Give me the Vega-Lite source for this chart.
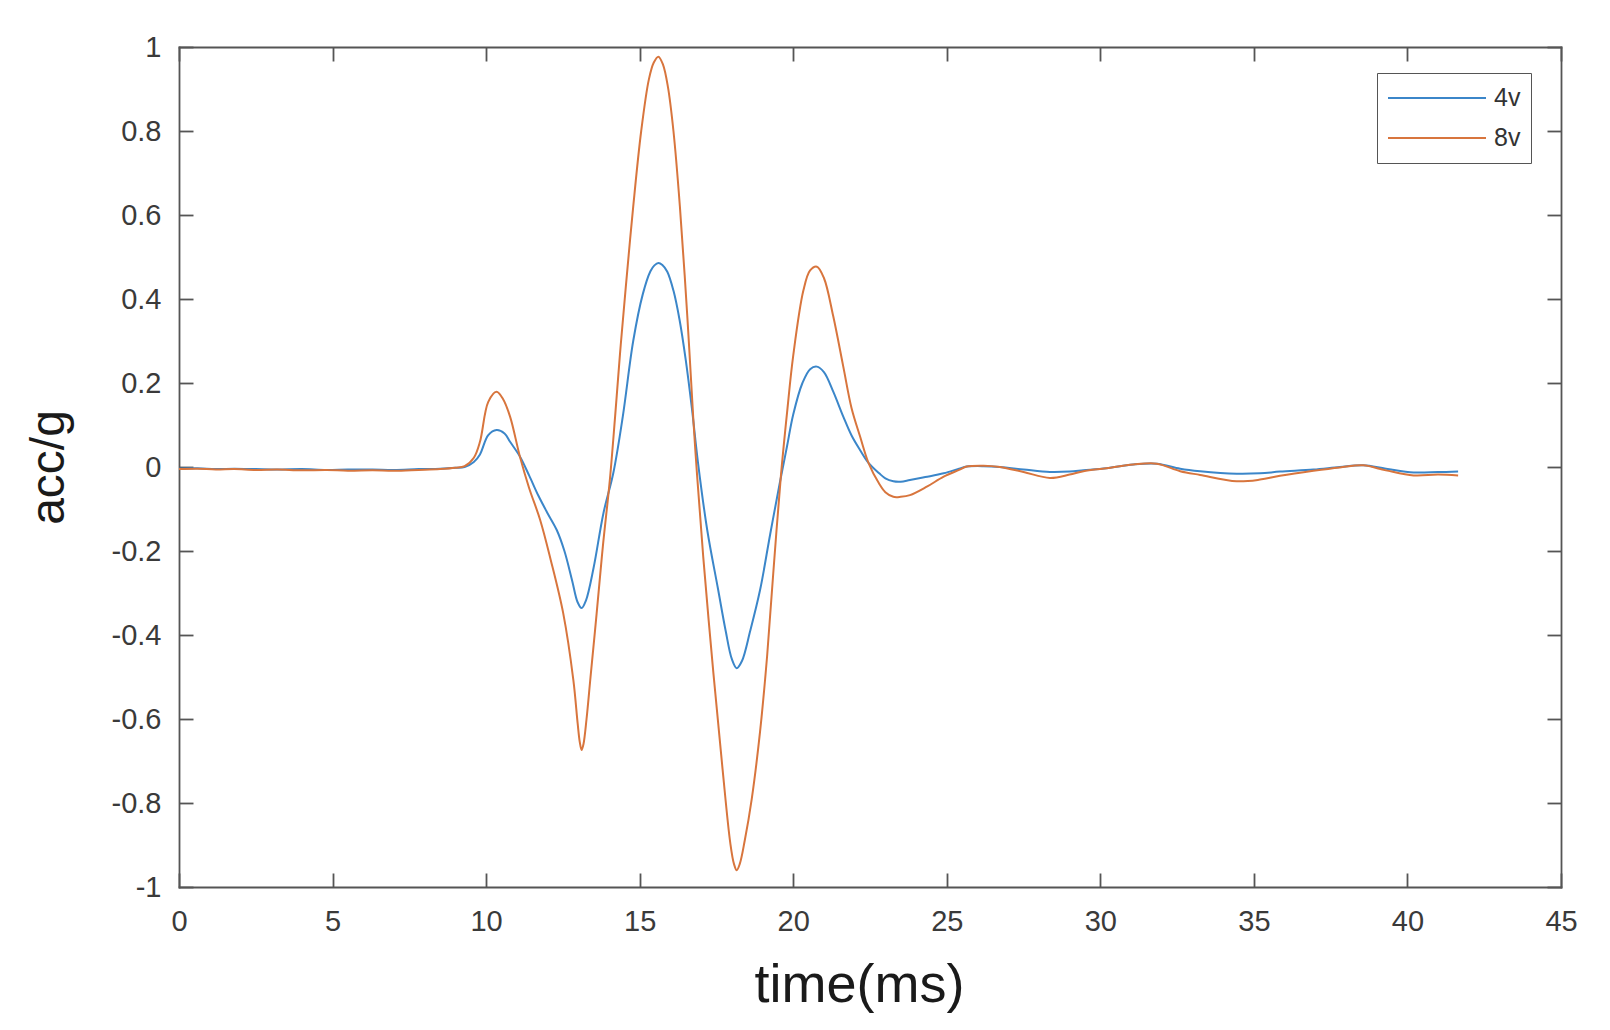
{
  "$schema": "https://vega.github.io/schema/vega-lite/v6.json",
  "width": 1382,
  "height": 840,
  "autosize": {"type": "none"},
  "padding": {"left": 179, "top": 47, "right": 49, "bottom": 143},
  "background": "white",
  "config": {
    "view": {"stroke": null},
    "font": "Liberation Sans",
    "axis": {
      "grid": false,
      "labelFont": "Liberation Sans",
      "labelFontSize": 29,
      "labelColor": "#3a3a3a",
      "domainColor": "#555555",
      "domainWidth": 1.8,
      "domainCap": "square",
      "tickColor": "#555555",
      "tickWidth": 1.8,
      "tickSize": -14,
      "labelFlush": false,
      "labelOverlap": false,
      "labelBound": false,
      "titleFont": "Liberation Sans",
      "titleFontWeight": "normal",
      "titleColor": "#1a1a1a"
    }
  },
  "datasets": {
    "acc": [
      {"t": 0, "v": -0.004, "s": "4v"}, {"t": 0.6, "v": -0.003, "s": "4v"}, {"t": 1.2, "v": -0.005, "s": "4v"}, {"t": 1.8, "v": -0.004, "s": "4v"}, {"t": 2.5, "v": -0.005, "s": "4v"}, {"t": 3.2, "v": -0.006, "s": "4v"}, {"t": 4, "v": -0.005, "s": "4v"}, {"t": 4.8, "v": -0.007, "s": "4v"}, {"t": 5.5, "v": -0.006, "s": "4v"}, {"t": 6.3, "v": -0.006, "s": "4v"}, {"t": 7, "v": -0.007, "s": "4v"}, {"t": 7.8, "v": -0.005, "s": "4v"}, {"t": 8.5, "v": -0.004, "s": "4v"}, {"t": 9.0, "v": -0.002, "s": "4v"}, {"t": 9.3, "v": 0.0, "s": "4v"}, {"t": 9.6, "v": 0.012, "s": "4v"}, {"t": 9.8, "v": 0.03, "s": "4v"}, {"t": 10.07, "v": 0.076, "s": "4v"}, {"t": 10.34, "v": 0.088, "s": "4v"}, {"t": 10.6, "v": 0.08, "s": "4v"}, {"t": 10.78, "v": 0.06, "s": "4v"}, {"t": 11.1, "v": 0.025, "s": "4v"}, {"t": 11.4, "v": -0.02, "s": "4v"}, {"t": 11.7, "v": -0.068, "s": "4v"}, {"t": 12.0, "v": -0.11, "s": "4v"}, {"t": 12.3, "v": -0.15, "s": "4v"}, {"t": 12.55, "v": -0.2, "s": "4v"}, {"t": 12.8, "v": -0.27, "s": "4v"}, {"t": 12.98, "v": -0.322, "s": "4v"}, {"t": 13.11, "v": -0.336, "s": "4v"}, {"t": 13.25, "v": -0.318, "s": "4v"}, {"t": 13.5, "v": -0.24, "s": "4v"}, {"t": 13.82, "v": -0.11, "s": "4v"}, {"t": 14.14, "v": -0.015, "s": "4v"}, {"t": 14.45, "v": 0.12, "s": "4v"}, {"t": 14.79, "v": 0.3, "s": "4v"}, {"t": 15.1, "v": 0.411, "s": "4v"}, {"t": 15.35, "v": 0.466, "s": "4v"}, {"t": 15.48, "v": 0.48, "s": "4v"}, {"t": 15.61, "v": 0.486, "s": "4v"}, {"t": 15.74, "v": 0.481, "s": "4v"}, {"t": 15.9, "v": 0.465, "s": "4v"}, {"t": 16.1, "v": 0.42, "s": "4v"}, {"t": 16.3, "v": 0.35, "s": "4v"}, {"t": 16.5, "v": 0.255, "s": "4v"}, {"t": 16.7, "v": 0.14, "s": "4v"}, {"t": 16.9, "v": 0.01, "s": "4v"}, {"t": 17.2, "v": -0.15, "s": "4v"}, {"t": 17.55, "v": -0.29, "s": "4v"}, {"t": 17.8, "v": -0.39, "s": "4v"}, {"t": 18.0, "v": -0.457, "s": "4v"}, {"t": 18.16, "v": -0.479, "s": "4v"}, {"t": 18.33, "v": -0.462, "s": "4v"}, {"t": 18.6, "v": -0.39, "s": "4v"}, {"t": 18.92, "v": -0.293, "s": "4v"}, {"t": 19.25, "v": -0.16, "s": "4v"}, {"t": 19.57, "v": -0.035, "s": "4v"}, {"t": 19.8, "v": 0.05, "s": "4v"}, {"t": 20.0, "v": 0.125, "s": "4v"}, {"t": 20.3, "v": 0.2, "s": "4v"}, {"t": 20.55, "v": 0.233, "s": "4v"}, {"t": 20.77, "v": 0.239, "s": "4v"}, {"t": 21.0, "v": 0.226, "s": "4v"}, {"t": 21.3, "v": 0.18, "s": "4v"}, {"t": 21.63, "v": 0.12, "s": "4v"}, {"t": 21.9, "v": 0.075, "s": "4v"}, {"t": 22.18, "v": 0.04, "s": "4v"}, {"t": 22.45, "v": 0.01, "s": "4v"}, {"t": 22.8, "v": -0.015, "s": "4v"}, {"t": 23.0, "v": -0.027, "s": "4v"}, {"t": 23.26, "v": -0.034, "s": "4v"}, {"t": 23.5, "v": -0.035, "s": "4v"}, {"t": 23.8, "v": -0.031, "s": "4v"}, {"t": 24.3, "v": -0.024, "s": "4v"}, {"t": 24.9, "v": -0.015, "s": "4v"}, {"t": 25.4, "v": -0.004, "s": "4v"}, {"t": 25.65, "v": 0.001, "s": "4v"}, {"t": 26.2, "v": 0.002, "s": "4v"}, {"t": 26.73, "v": 0.0, "s": "4v"}, {"t": 27.5, "v": -0.006, "s": "4v"}, {"t": 28.36, "v": -0.012, "s": "4v"}, {"t": 29.0, "v": -0.011, "s": "4v"}, {"t": 29.45, "v": -0.008, "s": "4v"}, {"t": 30.2, "v": -0.003, "s": "4v"}, {"t": 31.07, "v": 0.006, "s": "4v"}, {"t": 31.84, "v": 0.008, "s": "4v"}, {"t": 32.6, "v": -0.004, "s": "4v"}, {"t": 33.25, "v": -0.01, "s": "4v"}, {"t": 34.44, "v": -0.016, "s": "4v"}, {"t": 35.2, "v": -0.015, "s": "4v"}, {"t": 35.85, "v": -0.011, "s": "4v"}, {"t": 36.94, "v": -0.006, "s": "4v"}, {"t": 37.8, "v": 0.0, "s": "4v"}, {"t": 38.56, "v": 0.004, "s": "4v"}, {"t": 39.3, "v": -0.004, "s": "4v"}, {"t": 40.2, "v": -0.013, "s": "4v"}, {"t": 41.0, "v": -0.012, "s": "4v"}, {"t": 41.65, "v": -0.011, "s": "4v"},
      {"t": 0, "v": -0.005, "s": "8v"}, {"t": 0.6, "v": -0.004, "s": "8v"}, {"t": 1.2, "v": -0.006, "s": "8v"}, {"t": 1.8, "v": -0.005, "s": "8v"}, {"t": 2.5, "v": -0.007, "s": "8v"}, {"t": 3.2, "v": -0.006, "s": "8v"}, {"t": 4, "v": -0.008, "s": "8v"}, {"t": 4.8, "v": -0.007, "s": "8v"}, {"t": 5.5, "v": -0.009, "s": "8v"}, {"t": 6.3, "v": -0.008, "s": "8v"}, {"t": 7, "v": -0.009, "s": "8v"}, {"t": 7.8, "v": -0.007, "s": "8v"}, {"t": 8.5, "v": -0.005, "s": "8v"}, {"t": 9.0, "v": -0.002, "s": "8v"}, {"t": 9.3, "v": 0.002, "s": "8v"}, {"t": 9.6, "v": 0.022, "s": "8v"}, {"t": 9.8, "v": 0.06, "s": "8v"}, {"t": 10.07, "v": 0.155, "s": "8v"}, {"t": 10.34, "v": 0.179, "s": "8v"}, {"t": 10.55, "v": 0.162, "s": "8v"}, {"t": 10.78, "v": 0.12, "s": "8v"}, {"t": 11.1, "v": 0.025, "s": "8v"}, {"t": 11.4, "v": -0.05, "s": "8v"}, {"t": 11.76, "v": -0.126, "s": "8v"}, {"t": 12.1, "v": -0.22, "s": "8v"}, {"t": 12.51, "v": -0.348, "s": "8v"}, {"t": 12.84, "v": -0.507, "s": "8v"}, {"t": 12.98, "v": -0.61, "s": "8v"}, {"t": 13.05, "v": -0.655, "s": "8v"}, {"t": 13.11, "v": -0.674, "s": "8v"}, {"t": 13.17, "v": -0.66, "s": "8v"}, {"t": 13.27, "v": -0.6, "s": "8v"}, {"t": 13.4, "v": -0.5, "s": "8v"}, {"t": 13.6, "v": -0.348, "s": "8v"}, {"t": 13.8, "v": -0.19, "s": "8v"}, {"t": 14.03, "v": -0.03, "s": "8v"}, {"t": 14.2, "v": 0.12, "s": "8v"}, {"t": 14.36, "v": 0.27, "s": "8v"}, {"t": 14.55, "v": 0.43, "s": "8v"}, {"t": 14.79, "v": 0.62, "s": "8v"}, {"t": 15.05, "v": 0.8, "s": "8v"}, {"t": 15.3, "v": 0.923, "s": "8v"}, {"t": 15.46, "v": 0.963, "s": "8v"}, {"t": 15.61, "v": 0.977, "s": "8v"}, {"t": 15.76, "v": 0.958, "s": "8v"}, {"t": 15.92, "v": 0.905, "s": "8v"}, {"t": 16.1, "v": 0.8, "s": "8v"}, {"t": 16.31, "v": 0.62, "s": "8v"}, {"t": 16.55, "v": 0.36, "s": "8v"}, {"t": 16.75, "v": 0.11, "s": "8v"}, {"t": 16.87, "v": -0.02, "s": "8v"}, {"t": 17.07, "v": -0.214, "s": "8v"}, {"t": 17.4, "v": -0.49, "s": "8v"}, {"t": 17.7, "v": -0.72, "s": "8v"}, {"t": 17.95, "v": -0.895, "s": "8v"}, {"t": 18.07, "v": -0.945, "s": "8v"}, {"t": 18.16, "v": -0.96, "s": "8v"}, {"t": 18.26, "v": -0.945, "s": "8v"}, {"t": 18.42, "v": -0.89, "s": "8v"}, {"t": 18.65, "v": -0.79, "s": "8v"}, {"t": 18.92, "v": -0.63, "s": "8v"}, {"t": 19.15, "v": -0.45, "s": "8v"}, {"t": 19.35, "v": -0.253, "s": "8v"}, {"t": 19.6, "v": -0.02, "s": "8v"}, {"t": 19.8, "v": 0.13, "s": "8v"}, {"t": 20.0, "v": 0.265, "s": "8v"}, {"t": 20.33, "v": 0.42, "s": "8v"}, {"t": 20.55, "v": 0.468, "s": "8v"}, {"t": 20.77, "v": 0.477, "s": "8v"}, {"t": 21.0, "v": 0.45, "s": "8v"}, {"t": 21.3, "v": 0.36, "s": "8v"}, {"t": 21.63, "v": 0.239, "s": "8v"}, {"t": 21.9, "v": 0.14, "s": "8v"}, {"t": 22.18, "v": 0.072, "s": "8v"}, {"t": 22.45, "v": 0.01, "s": "8v"}, {"t": 22.8, "v": -0.04, "s": "8v"}, {"t": 23.0, "v": -0.06, "s": "8v"}, {"t": 23.26, "v": -0.071, "s": "8v"}, {"t": 23.5, "v": -0.071, "s": "8v"}, {"t": 23.8, "v": -0.067, "s": "8v"}, {"t": 24.35, "v": -0.047, "s": "8v"}, {"t": 24.9, "v": -0.023, "s": "8v"}, {"t": 25.4, "v": -0.007, "s": "8v"}, {"t": 25.65, "v": 0.001, "s": "8v"}, {"t": 26.2, "v": 0.003, "s": "8v"}, {"t": 26.73, "v": 0.0, "s": "8v"}, {"t": 27.5, "v": -0.012, "s": "8v"}, {"t": 28.36, "v": -0.026, "s": "8v"}, {"t": 29.0, "v": -0.018, "s": "8v"}, {"t": 29.45, "v": -0.01, "s": "8v"}, {"t": 30.2, "v": -0.003, "s": "8v"}, {"t": 31.07, "v": 0.006, "s": "8v"}, {"t": 31.84, "v": 0.008, "s": "8v"}, {"t": 32.6, "v": -0.01, "s": "8v"}, {"t": 33.25, "v": -0.019, "s": "8v"}, {"t": 34.44, "v": -0.034, "s": "8v"}, {"t": 35.2, "v": -0.03, "s": "8v"}, {"t": 35.85, "v": -0.021, "s": "8v"}, {"t": 36.94, "v": -0.009, "s": "8v"}, {"t": 37.8, "v": -0.001, "s": "8v"}, {"t": 38.56, "v": 0.004, "s": "8v"}, {"t": 39.3, "v": -0.008, "s": "8v"}, {"t": 40.2, "v": -0.02, "s": "8v"}, {"t": 41.0, "v": -0.018, "s": "8v"}, {"t": 41.65, "v": -0.02, "s": "8v"}
    ]
  },
  "data": {"name": "acc"},
  "layer": [
    {
      "mark": {"type": "line", "interpolate": "catmull-rom", "strokeWidth": 2, "clip": true},
      "encoding": {
        "x": {
          "field": "t", "type": "quantitative",
          "scale": {"domain": [0, 45], "nice": false, "zero": false},
          "axis": {
            "orient": "bottom",
            "values": [0, 5, 10, 15, 20, 25, 30, 35, 40, 45],
            "format": "d",
            "labelPadding": 34,
            "title": "time(ms)",
            "titleFontSize": 54,
            "titleX": 680,
            "titleY": 114,
            "titleBaseline": "alphabetic",
            "titleAlign": "center"
          }
        },
        "y": {
          "field": "v", "type": "quantitative",
          "scale": {"domain": [-1, 1], "nice": false, "zero": false},
          "axis": {
            "orient": "left",
            "values": [-1, -0.8, -0.6, -0.4, -0.2, 0, 0.2, 0.4, 0.6, 0.8, 1],
            "labelExpr": "datum.value + ''",
            "labelPadding": 32,
            "title": "acc/g",
            "titleFontSize": 48,
            "titleAngle": 270,
            "titleX": -116,
            "titleY": 420,
            "titleBaseline": "alphabetic",
            "titleAlign": "center"
          }
        },
        "color": {
          "field": "s", "type": "nominal",
          "scale": {"domain": ["4v", "8v"], "range": ["#3b86c9", "#d8753d"]},
          "legend": {
            "orient": "none",
            "legendX": 1198,
            "legendY": 26,
            "title": null,
            "symbolType": "stroke",
            "symbolSize": 9604,
            "symbolStrokeWidth": 2,
            "clipHeight": 30,
            "rowPadding": 10,
            "padding": 10,
            "strokeColor": "#555555",
            "fillColor": "white",
            "labelFont": "Liberation Sans",
            "labelFontSize": 25,
            "labelColor": "#333333",
            "labelOffset": 7
          }
        }
      }
    },
    {
      "mark": {"type": "line", "opacity": 0},
      "encoding": {
        "x": {
          "field": "t", "type": "quantitative",
          "axis": {"orient": "top", "values": [0, 5, 10, 15, 20, 25, 30, 35, 40, 45], "labels": false, "title": null}
        },
        "y": {
          "field": "v", "type": "quantitative",
          "axis": {"orient": "right", "values": [-1, -0.8, -0.6, -0.4, -0.2, 0, 0.2, 0.4, 0.6, 0.8, 1], "labels": false, "title": null}
        },
        "detail": {"field": "s"}
      }
    }
  ]
}
